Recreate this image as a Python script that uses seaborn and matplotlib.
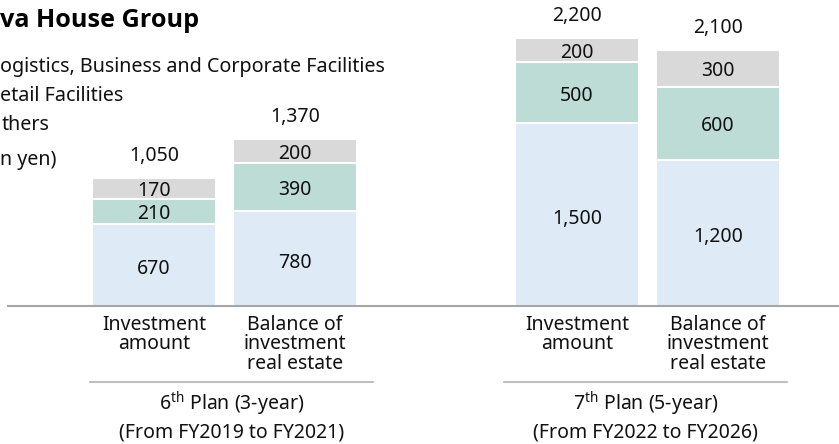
import matplotlib
matplotlib.use("Agg")
import matplotlib.pyplot as plt
import matplotlib.transforms as mtransforms
import seaborn as sns
import pandas as pd

# chart data (billion yen)
categories = ["Investment\namount", "Balance of\ninvestment\nreal estate",
              "Investment\namount", "Balance of\ninvestment\nreal estate"]
logistics = [670, 780, 1500, 1200]
retail = [210, 390, 500, 600]
others = [170, 200, 200, 300]
totals = [1050, 1370, 2200, 2100]
plan_titles = ["6$^{\\mathrm{th}}$ Plan (3-year)", "7$^{\\mathrm{th}}$ Plan (5-year)"]
plan_periods = ["(From FY2019 to FY2021)", "(From FY2022 to FY2026)"]
# title and legend lines are cropped on the left in the source image
title_text = "va House Group"
legend_labels = ["ogistics, Business and Corporate Facilities", "etail Facilities",
                 "thers", "n yen)"]

# layout (bar slots, groups separated by an empty slot)
positions = [0, 1, 3, 4]
group_spans = [(-0.454, 1.553), (2.482, 4.489)]
colors = {"logistics": "#DEEBF7", "retail": "#BDDCD5", "others": "#D9D9D9"}

W, H = 839, 444
sns.set_theme(style="white")
plt.rcParams["font.family"] = ["Noto Sans", "DejaVu Sans"]
plt.rcParams["mathtext.fontset"] = "custom"
plt.rcParams["mathtext.rm"] = "Noto Sans"

df = pd.DataFrame({"pos": positions, "logistics": logistics,
                   "retail": retail, "others": others})
df["lr"] = df["logistics"] + df["retail"]
df["total"] = df["lr"] + df["others"]

fig = plt.figure(figsize=(W / 100, H / 100), dpi=100)
ax = fig.add_axes([8 / W, 1 - 306 / H, 1 - 8 / W, 306 / H])

# overlapping cumulative bars give a stacked look
for col, key in [("total", "others"), ("lr", "retail"), ("logistics", "logistics")]:
    sns.barplot(data=df, x="pos", y=col, native_scale=True, width=0.885,
                color=colors[key], saturation=1, errorbar=None,
                edgecolor="white", linewidth=1.5, ax=ax)

ax.set_xlim(-1.035, 4.858)
ax.set_ylim(0, 2512)
ax.set_yticks([])
ax.set_xlabel("")
ax.set_ylabel("")
for s in ["top", "left", "right"]:
    ax.spines[s].set_visible(False)
ax.spines["bottom"].set_color("#A6A6A6")
ax.spines["bottom"].set_linewidth(1.5)

ax.set_xticks(positions)
ax.set_xticklabels(categories, fontsize=14, linespacing=0.95, color="#111111")
ax.tick_params(axis="x", length=0, pad=6.5)

# segment values and totals
txt = dict(ha="center", va="center", fontsize=14, color="#111111",
           textcoords="offset points")
for i, row in df.iterrows():
    x = row["pos"]
    ax.annotate(f"{row['logistics']:,}", (x, row["logistics"] / 2), xytext=(0, -3), **txt)
    ax.annotate(f"{row['retail']:,}", (x, row["logistics"] + row["retail"] / 2),
                xytext=(0, -2), **txt)
    ax.annotate(f"{row['others']:,}", (x, row["lr"] + row["others"] / 2),
                xytext=(0, -2), **txt)
    ax.annotate(f"{totals[i]:,}", (x, totals[i]), xytext=(0, 16), **txt)

# plan group underlines and captions
trans = mtransforms.blended_transform_factory(ax.transData, fig.transFigure)
for (x0, x1), title, period in zip(group_spans, plan_titles, plan_periods):
    ax.plot([x0, x1], [1 - 382 / H, 1 - 382 / H], color="#BFBFBF", linewidth=1.5,
            transform=trans, clip_on=False)
    xc = (x0 + x1) / 2
    ax.text(xc, 1 - 404 / H, title, transform=trans, ha="center", va="center",
            fontsize=14, color="#111111")
    ax.text(xc, 1 - 432 / H, period, transform=trans, ha="center", va="center",
            fontsize=14, color="#111111")

# title and legend text
fig.text(0.5 / W, 1 - 27 / H, title_text, ha="left", va="baseline",
         fontsize=18.2, fontweight="bold", family=["Open Sans", "DejaVu Sans"],
         color="#000000")
legend_pos = [(0.5, 67, "left"), (0.5, 96, "left"), (50, 125, "right"), (0.5, 160, "left")]
for lab, (xp, yc, ha) in zip(legend_labels, legend_pos):
    fig.text(xp / W, 1 - yc / H, lab, ha=ha, va="center", fontsize=14.2, color="#111111")

fig.savefig("out.png", dpi=100)
